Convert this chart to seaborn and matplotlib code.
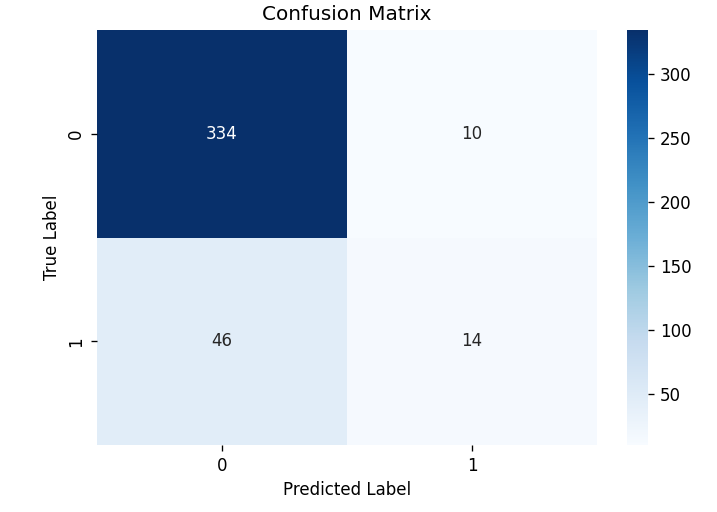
import numpy as np
import matplotlib
matplotlib.use("Agg")
import matplotlib.pyplot as plt
import seaborn as sns

class_labels = ["0", "1"]
cm_values = np.array([[334, 10],
                      [46, 14]])

W, H = 717, 512
fig = plt.figure(figsize=(W / 120, H / 120), dpi=120)
ax = fig.add_axes([97 / W, 1 - 445 / H, 500 / W, 415 / H])
cax = fig.add_axes([627 / W, 1 - 445 / H, 21 / W, 415 / H])
sns.heatmap(cm_values, annot=True, fmt="d", cmap="Blues",
            xticklabels=class_labels, yticklabels=class_labels,
            ax=ax, cbar_ax=cax)
ax.set_title("Confusion Matrix")
ax.set_xlabel("Predicted Label")
ax.set_ylabel("True Label")
plt.savefig("out.png", dpi=120)
